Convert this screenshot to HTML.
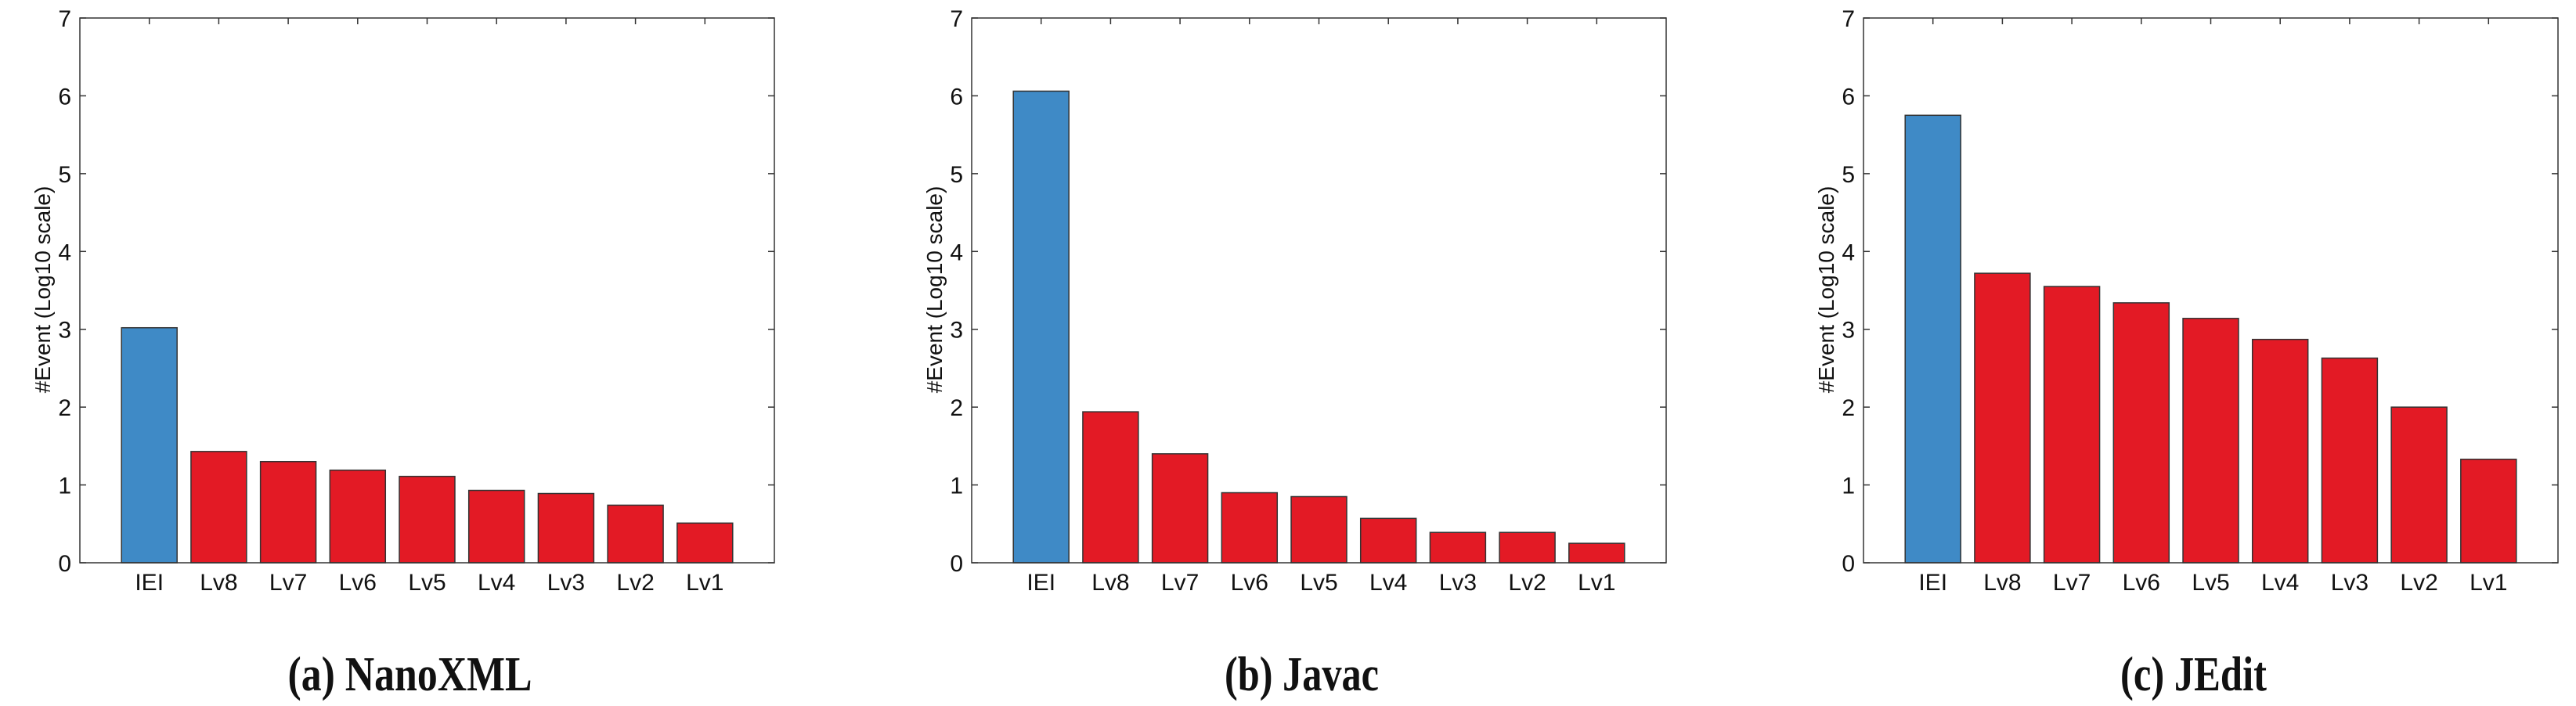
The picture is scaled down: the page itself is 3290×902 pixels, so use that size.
<!DOCTYPE html>
<html><head><meta charset="utf-8"><style>
html,body{margin:0;padding:0;background:#fff;}
svg{display:block;}
text{font-family:"Liberation Sans",sans-serif;fill:#111;}
.title{font-family:"Liberation Serif",serif;font-weight:bold;}
</style></head><body>
<svg id="fig" width="3290" height="902" viewBox="0 0 3290 902" xmlns="http://www.w3.org/2000/svg"></svg>
<script>
const categories = ["IEI","Lv8","Lv7","Lv6","Lv5","Lv4","Lv3","Lv2","Lv1"];
const nanoxmlValues = [3.02,1.43,1.30,1.19,1.11,0.93,0.89,0.74,0.51];
const javacValues = [6.06,1.94,1.40,0.90,0.85,0.57,0.39,0.39,0.25];
const jeditValues = [5.75,3.72,3.55,3.34,3.14,2.87,2.63,2.00,1.33];
const yTicks = [0,1,2,3,4,5,6,7];
const panelTitles = ["(a) NanoXML","(b) Javac","(c) JEdit"];

const NS="http://www.w3.org/2000/svg";
const svg=document.getElementById('fig');
function mk(tag,attrs,parent){const e=document.createElementNS(NS,tag);for(const k in attrs)e.setAttribute(k,attrs[k]);(parent||svg).appendChild(e);return e;}

const panels=[
 {left:102,vals:nanoxmlValues,tw:312,name:'nanoxml'},
 {left:1241,vals:javacValues,tw:197,name:'javac'},
 {left:2380,vals:jeditValues,tw:187,name:'jedit'}
];
const W=887, plotTop=23, plotBottom=719, yMax=7, xMax=10;
panels.forEach((p,pi)=>{
  const g=mk('g',{});
  
  
  const xs=v=>p.left+v/xMax*W;
  const ys=v=>plotBottom-v/yMax*(plotBottom-plotTop);
  p.vals.forEach((v,i)=>{
    const cx=xs(i+1), bw=0.8/xMax*W;
    const r=mk('rect',{x:cx-bw/2,y:ys(v),width:bw,height:ys(0)-ys(v),fill:i===0?'#3f8ac6':'#e31a25',stroke:'#333','stroke-width':1.5},g);
    
    
    const t=mk('text',{x:cx,y:plotBottom+35,'font-size':30,'text-anchor':'middle'},g);
    t.textContent=categories[i];
    
    
    mk('line',{x1:cx,x2:cx,y1:plotTop,y2:plotTop+8,stroke:'#333','stroke-width':1.5},g);
  });
  const box=mk('rect',{x:p.left,y:plotTop,width:W,height:plotBottom-plotTop,fill:'none',stroke:'#333','stroke-width':1.5},g);
  
  
  yTicks.forEach(v=>{
    const y=ys(v);
    mk('line',{x1:p.left,x2:p.left+8,y1:y,y2:y,stroke:'#333','stroke-width':1.5},g);
    mk('line',{x1:p.left+W-8,x2:p.left+W,y1:y,y2:y,stroke:'#333','stroke-width':1.5},g);
    const t=mk('text',{x:p.left-11,y:y+11,'font-size':30,'text-anchor':'end'},g);
    t.textContent=String(v);
    
    
  });
  const yl=mk('text',{x:0,y:0,'font-size':28,'text-anchor':'middle',transform:`translate(${p.left-38},370) rotate(-90)`},g);
  yl.textContent='#Event (Log10 scale)';
  
  
  const tt=mk('text',{x:p.left+W/2-22,y:882,'font-size':62,'text-anchor':'middle','class':'title',textLength:p.tw,lengthAdjust:'spacingAndGlyphs'},g);
  tt.textContent=panelTitles[pi];
  
  
});
</script>
</body></html>
